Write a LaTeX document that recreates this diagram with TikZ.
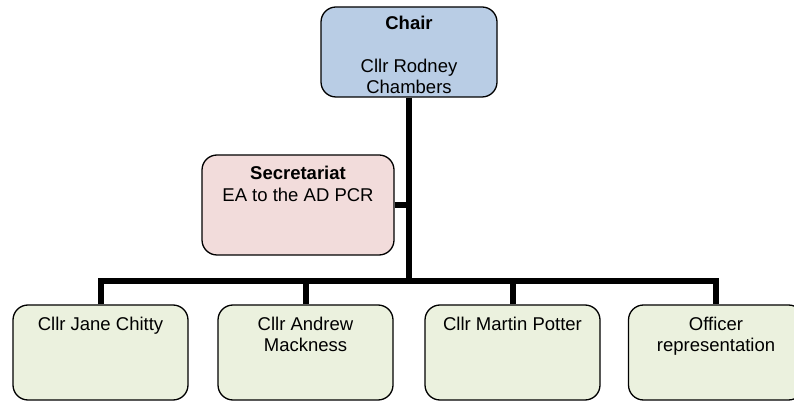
\documentclass[tikz,border=0pt]{standalone}
\usepackage{fontspec}
\setmainfont{Liberation Sans}
\definecolor{chairfill}{HTML}{B9CDE5}
\definecolor{secfill}{HTML}{F2DCDB}
\definecolor{memfill}{HTML}{EBF1DE}
\begin{document}
\begin{tikzpicture}[x=1pt,y=1pt,
  box/.style={draw=black, line width=1.3pt, rounded corners=15pt, inner sep=0pt},
  chairbox/.style={box, fill=chairfill, minimum width=176pt, minimum height=90pt},
  secbox/.style={box, fill=secfill, minimum width=192pt, minimum height=100pt},
  membox/.style={box, fill=memfill, minimum width=175pt, minimum height=95pt},
  txt/.style={inner sep=0pt, anchor=base, font=\fontsize{18.5}{21.5}\selectfont},
  conn/.style={draw=black, line width=6pt}]
\useasboundingbox (0,0) rectangle (794,401);
\clip (0,0) rectangle (794,401);
% boxes
\node[chairbox] (chair) at (409,349) {};
\node[secbox] (sec) at (298,196) {};
\node[membox] (m1) at (100.5,48.5) {};
\node[membox] (m2) at (305.5,48.5) {};
\node[membox] (m3) at (512.5,48.5) {};
\node[membox] (m4) at (716,48.5) {};
% texts
\node[txt] (chairA) at (409,371) {\textbf{Chair}};
\node[txt] (chairB) at (409,328.5) {Cllr Rodney};
\node[txt] (chairC) at (409,307) {Chambers};
\node[txt] (secA) at (298,221) {\textbf{Secretariat}};
\node[txt] (secB) at (298,199.5) {EA to the AD PCR};
\node[txt] (m1A) at (100.5,70.5) {Cllr Jane Chitty};
\node[txt] (m2A) at (305.5,70.5) {Cllr Andrew};
\node[txt] (m2B) at (305.5,49) {Mackness};
\node[txt] (m3A) at (512.5,70.5) {Cllr Martin Potter};
\node[txt] (m4A) at (716,70.5) {Officer};
\node[txt] (m4B) at (716,49) {representation};
% connectors
\coordinate (bus) at (409,120);
\draw[conn] (chair.south) -- (chair.south |- bus);
\draw[conn] (sec.east) -- (sec.east -| chair.south);
\draw[conn] (m1.north) -- (m1.north |- bus) -- (m4.north |- bus) -- (m4.north);
\draw[conn] (m2.north) -- (m2.north |- bus);
\draw[conn] (m3.north) -- (m3.north |- bus);
\end{tikzpicture}
\end{document}
